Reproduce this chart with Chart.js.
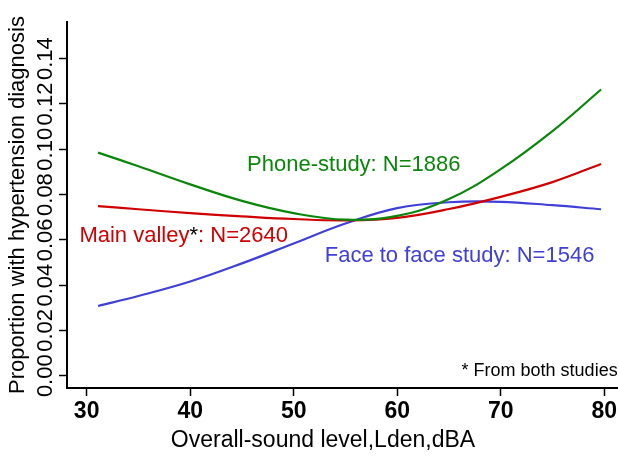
<!DOCTYPE html>
<html>
<head>
<meta charset="utf-8">
<script src="https://cdn.jsdelivr.net/npm/chart.js@4.4.0/dist/chart.umd.min.js"></script>
<style>
  html, body { margin: 0; padding: 0; background: #fff; }
</style>
</head>
<body>
<canvas id="htChart" width="619" height="457"></canvas>
<script>
// Sound level (Lden, dBA) where the fitted curves are sampled
const soundLevels = [31.1, 35, 40, 45, 50, 55, 60, 65, 70, 75, 79.7];

// Proportion with hypertension diagnosis per study
const phoneStudy = [0.0985, 0.0925, 0.0845, 0.0772, 0.0718, 0.0689, 0.0706, 0.0780, 0.0912, 0.1080, 0.1264];
const mainValley = [0.0749, 0.0735, 0.0718, 0.0704, 0.0692, 0.0686, 0.0697, 0.0736, 0.0790, 0.0855, 0.0935];
const faceToFace = [0.0308, 0.0352, 0.0416, 0.0496, 0.0584, 0.0672, 0.0740, 0.0766, 0.0768, 0.0753, 0.0735];

const xTicks = [30, 40, 50, 60, 70, 80];
const yTicks = [0, 0.02, 0.04, 0.06, 0.08, 0.10, 0.12, 0.14];
const xTitle = 'Overall-sound level,Lden,dBA';

const FONT = "'Liberation Sans', Arial, sans-serif";
const GREEN = '#0a870a';
const RED = '#d00000';
const BLUE = '#4040d8';

// text placed inside the plot, in data coordinates
const curveLabels = [
  { parts: [['Phone-study: N=1886', GREEN]], x: 45.5, y: 0.0930, size: 22, align: 'left' },
  { parts: [['Main valley', RED], ['*', '#000'], [': N=2640', RED]], x: 29.3, y: 0.0618, size: 22, align: 'left' },
  { parts: [['Face to face study: N=1546', BLUE]], x: 53.0, y: 0.0528, size: 22, align: 'left' },
  { parts: [['* From both studies', '#000']], x: 81.3, y: 0.0022, size: 18, align: 'right' }
];

function toPoints(values) {
  return values.map((v, i) => ({ x: soundLevels[i], y: v }));
}

function curve(values, color) {
  return {
    data: toPoints(values),
    borderColor: color,
    borderWidth: 2.2,
    pointRadius: 0,
    fill: false,
    tension: 0.4
  };
}

// y tick labels are rotated; x title and curve labels drawn by hand
const textPlugin = {
  id: 'textPlugin',
  afterDraw(chart) {
    const { ctx } = chart;
    const xs = chart.scales.x;
    const ys = chart.scales.y;
    ctx.save();
    ctx.fillStyle = '#000';
    ctx.font = '22px ' + FONT;
    ctx.textAlign = 'center';
    ctx.textBaseline = 'middle';
    yTicks.forEach(v => {
      ctx.save();
      ctx.translate(ys.right - 21, ys.getPixelForValue(v));
      ctx.rotate(-Math.PI / 2);
      ctx.fillText(v.toFixed(2), 0, 0);
      ctx.restore();
    });

    ctx.font = '23px ' + FONT;
    ctx.fillText(xTitle, xs.left + 256, xs.bottom - 16);

    ctx.textAlign = 'left';
    curveLabels.forEach(lbl => {
      ctx.font = lbl.size + 'px ' + FONT;
      const total = lbl.parts.reduce((w, p) => w + ctx.measureText(p[0]).width, 0);
      let px = xs.getPixelForValue(lbl.x);
      if (lbl.align === 'right') px -= total;
      const py = ys.getPixelForValue(lbl.y);
      lbl.parts.forEach(([txt, col]) => {
        ctx.fillStyle = col;
        ctx.fillText(txt, px, py);
        px += ctx.measureText(txt).width;
      });
    });
    ctx.restore();
  }
};

new Chart(document.getElementById('htChart'), {
  type: 'line',
  data: {
    datasets: [
      curve(phoneStudy, GREEN),
      curve(mainValley, RED),
      curve(faceToFace, BLUE)
    ]
  },
  options: {
    responsive: false,
    animation: false,
    layout: { padding: { top: 22, right: 1, left: 0, bottom: 0 } },
    plugins: {
      legend: { display: false },
      tooltip: { enabled: false }
    },
    scales: {
      x: {
        type: 'linear',
        min: 28.1,
        max: 81.28,
        afterBuildTicks: s => { s.ticks = xTicks.map(v => ({ value: v })); },
        afterFit: s => { s.height = 69; },
        border: { display: true, color: '#000', width: 2 },
        grid: { display: true, drawOnChartArea: false, drawTicks: true, tickLength: 8, tickWidth: 1.5, tickColor: '#000', color: '#000' },
        ticks: { color: '#000', padding: 2, font: { family: FONT, size: 23, weight: 'bold' } }
      },
      y: {
        type: 'linear',
        min: -0.00543,
        max: 0.1562,
        afterBuildTicks: s => { s.ticks = yTicks.map(v => ({ value: v })); },
        afterFit: s => { s.width = 67; },
        border: { display: true, color: '#000', width: 2 },
        grid: { display: true, drawOnChartArea: false, drawTicks: true, tickLength: 8, tickWidth: 1.5, tickColor: '#000', color: '#000' },
        ticks: { display: false },
        title: {
          display: true,
          text: 'Proportion with hypertension diagnosis',
          color: '#000',
          padding: { top: 5, bottom: 5 },
          font: { family: FONT, size: 22 }
        }
      }
    }
  },
  plugins: [textPlugin]
});
</script>
</body>
</html>
